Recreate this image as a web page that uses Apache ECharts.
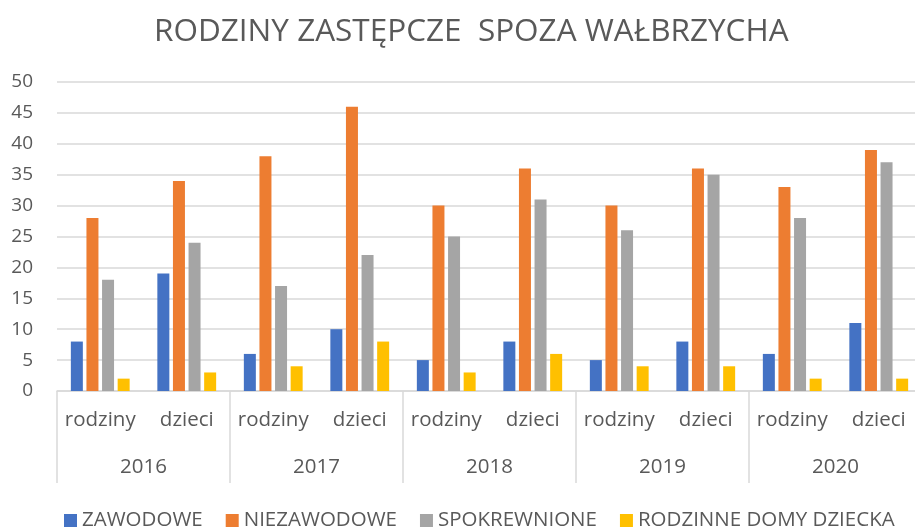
<!DOCTYPE html>
<html><head><meta charset="utf-8">
<script src="https://cdn.jsdelivr.net/npm/echarts@6/dist/echarts.min.js"></script>
<style>html,body{margin:0;padding:0;background:#fff;overflow:hidden;width:915px;height:529px}#c{width:930px;height:529px}</style>
</head><body><div id="c"></div>
<script>
const categories = ['rodziny','dzieci','rodziny','dzieci','rodziny','dzieci','rodziny','dzieci','rodziny','dzieci'];
const years = ['2016','2017','2018','2019','2020'];
const zawodowe = [8,19,6,10,5,8,5,8,6,11];
const niezawodowe = [28,34,38,46,30,36,30,36,33,39];
const spokrewnione = [18,24,17,22,25,31,26,35,28,37];
const rdd = [2,3,4,8,3,6,4,4,2,2];
const yTicks = {min:0,max:50,interval:5};

const font = 'Open Sans';
const txt = '#595959';
const chart = echarts.init(document.getElementById('c'));
const mk = (name, data, color) => ({name, type:'bar', data, barWidth:12, barGap:'30%', itemStyle:{color}, xAxisIndex:0});
chart.setOption({
  animation:false,
  title:{text:'RODZINY ZASTĘPCZE  SPOZA WAŁBRZYCHA', left:149, top:11,
    textStyle:{fontFamily:font, fontSize:31.5, fontWeight:'normal', color:txt}},
  legend:{top:505, left:59, itemWidth:13, itemHeight:13, itemGap:23, icon:'rect',
    textStyle:{fontFamily:font, fontSize:20.5, color:txt}},
  grid:{left:57, top:82, width:865, height:309},
  xAxis:[
    {type:'category', data:categories, position:'bottom',
     axisLine:{lineStyle:{color:'#d9d9d9', width:1.5}}, axisTick:{show:false},
     axisLabel:{interval:0, margin:19, fontFamily:font, fontSize:20.5, color:txt}},
    {type:'category', data:years, position:'bottom', gridIndex:0,
     axisLine:{show:false},
     axisTick:{show:true, interval:0, length:92, lineStyle:{color:'#d9d9d9', width:1.5}},
     axisLabel:{interval:0, margin:66, fontFamily:font, fontSize:20.5, color:txt}}
  ],
  yAxis:{type:'value', min:yTicks.min, max:yTicks.max, interval:yTicks.interval,
    axisLine:{show:false}, axisTick:{show:false},
    splitLine:{lineStyle:{color:'#d9d9d9', width:1.5}},
    axisLabel:{margin:24, fontFamily:font, fontSize:19, color:txt}},
  series:[
    mk('ZAWODOWE', zawodowe, '#4472C4'),
    mk('NIEZAWODOWE', niezawodowe, '#ED7D31'),
    mk('SPOKREWNIONE', spokrewnione, '#A5A5A5'),
    mk('RODZINNE DOMY DZIECKA', rdd, '#FFC000')
  ]
});
</script></body></html>
